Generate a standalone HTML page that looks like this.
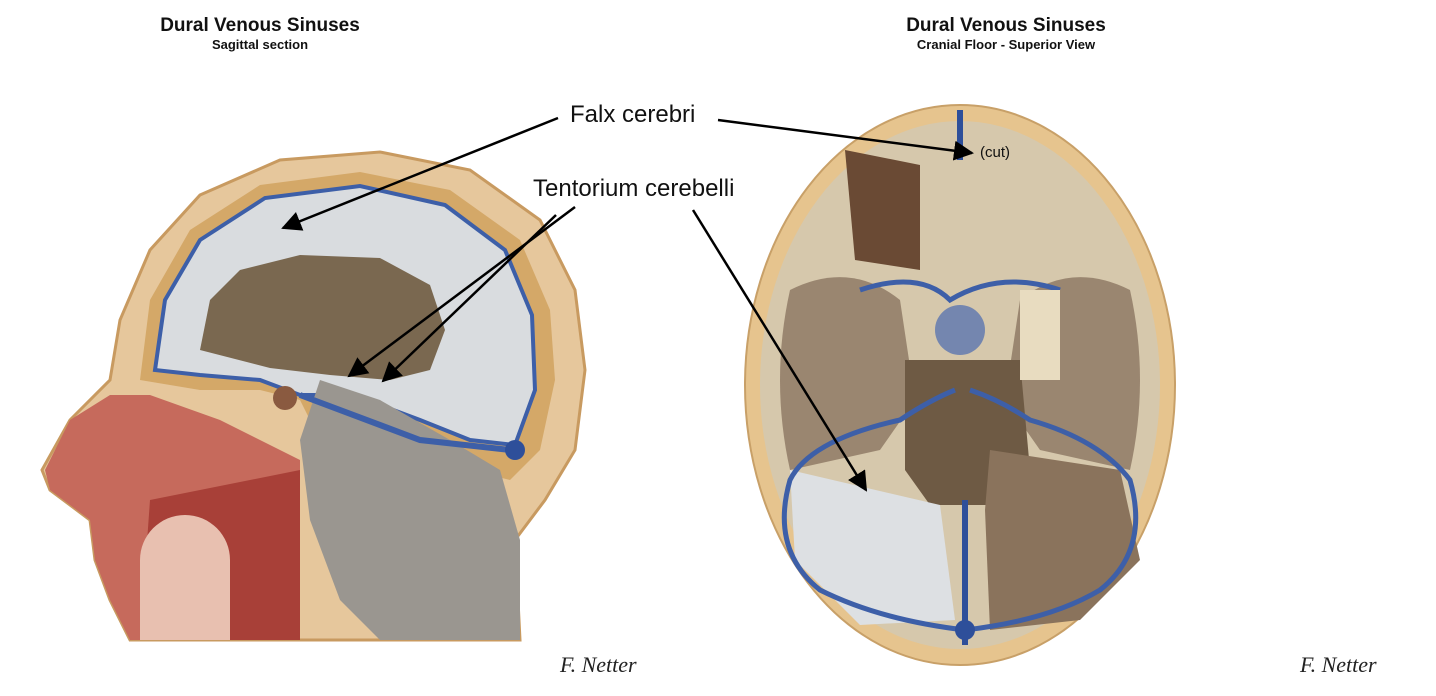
<!DOCTYPE html>
<html><head><meta charset="utf-8"><style>
body{margin:0;background:#fff;}
svg{display:block}
</style></head><body>
<svg width="1436" height="696" viewBox="0 0 1436 696" xmlns="http://www.w3.org/2000/svg" font-family="Liberation Sans, sans-serif">
<defs>
<marker id="ah" viewBox="0 0 10 10" refX="9" refY="5" markerWidth="8" markerHeight="8" orient="auto-start-reverse"><path d="M0,0 L10,5 L0,10 z" fill="#000"/></marker>
</defs>
<text x="260" y="31" text-anchor="middle" font-size="19" font-weight="bold" fill="#111">Dural Venous Sinuses</text>
<text x="260" y="49" text-anchor="middle" font-size="13" font-weight="bold" fill="#111">Sagittal section</text>
<text x="1006" y="31" text-anchor="middle" font-size="19" font-weight="bold" fill="#111">Dural Venous Sinuses</text>
<text x="1006" y="49" text-anchor="middle" font-size="13" font-weight="bold" fill="#111">Cranial Floor - Superior View</text>

<!-- left head -->
<path d="M130,640 L110,600 L95,560 L90,520 L50,490 L42,470 L70,420 L110,380 L120,320 L150,250 L200,195 L280,160 L380,152 L470,170 L540,220 L575,290 L585,370 L575,450 L545,500 L515,540 L520,640 Z" fill="#e6c79c" stroke="#c89a60" stroke-width="3"/>
<path d="M140,380 L150,300 L190,230 L260,185 L360,172 L450,190 L520,240 L550,310 L555,380 L540,450 L510,480 L470,470 L420,450 L380,430 L330,420 L310,420 L300,400 L260,390 L200,390 Z" fill="#d4a868"/>
<path d="M155,370 L165,300 L200,240 L265,198 L360,186 L445,205 L505,250 L532,315 L535,390 L515,445 L470,440 L420,420 L380,405 L330,395 L300,395 L260,380 L200,375 Z" fill="#d9dcdf" stroke="#3d5fa8" stroke-width="4"/>
<path d="M200,350 L210,300 L240,270 L300,255 L380,258 L430,285 L445,330 L430,370 L390,380 L330,375 L270,368 Z" fill="#7a6850"/>
<path d="M320,380 L300,440 L310,520 L340,600 L380,640 L520,640 L520,540 L500,470 L450,440 L380,400 Z" fill="#9a9690"/>
<path d="M300,395 L420,440 L510,450" stroke="#3d5fa8" stroke-width="6" fill="none"/>
<circle cx="515" cy="450" r="10" fill="#2e4f9a"/>
<path d="M45,470 L70,420 L110,395 L150,395 L220,420 L260,440 L300,460 L300,640 L130,640 L110,600 L95,560 L90,520 L50,490 Z" fill="#c66a5c"/>
<path d="M150,500 L300,470 L300,640 L140,640 Z" fill="#a84038"/>
<path d="M140,560 A40,40 0 0 1 230,560 L230,640 L140,640 Z" fill="#e8c0b0"/>
<circle cx="285" cy="398" r="12" fill="#8a5a40"/>

<!-- right skull -->
<ellipse cx="960" cy="385" rx="215" ry="280" fill="#e6c48e" stroke="#c8a068" stroke-width="2"/>
<ellipse cx="960" cy="385" rx="200" ry="264" fill="#d6c8ac"/>
<path d="M790,290 Q850,260 900,300 L915,400 L880,450 L790,470 Q770,380 790,290Z" fill="#9a8670"/>
<path d="M1130,290 Q1070,260 1020,300 L1005,400 L1040,450 L1130,470 Q1150,380 1130,290Z" fill="#9a8670"/>
<path d="M905,360 L1020,360 L1030,470 L990,505 L930,505 L905,470Z" fill="#6e5a44"/>
<path d="M990,450 L1120,470 L1140,560 L1080,620 L990,630 L985,510Z" fill="#8a735c"/>
<path d="M790,470 L940,505 L955,620 L860,625 L795,560Z" fill="#dde0e3"/>
<path d="M845,150 L920,165 L920,270 L855,260Z" fill="#6a4a34"/>
<path d="M960,110 L960,160 M965,500 L965,645" stroke="#2e4f9a" stroke-width="6"/>
<path d="M965,630 Q880,620 820,590 Q770,550 790,480 Q810,440 900,420 Q930,400 955,390 M965,630 Q1050,620 1100,590 Q1150,550 1130,480 Q1100,440 1030,420 Q1000,400 970,390 M860,290 Q920,270 950,300 Q1000,270 1060,290" stroke="#3d5fa8" stroke-width="5" fill="none"/>
<circle cx="965" cy="630" r="10" fill="#2e4f9a"/>
<circle cx="960" cy="330" r="25" fill="#4a6ab0" opacity="0.7"/>
<rect x="1020" y="290" width="40" height="90" fill="#e8dcc0"/>

<text x="570" y="122" font-size="24" fill="#111">Falx cerebri</text>
<text x="533" y="196" font-size="24" fill="#111">Tentorium cerebelli</text>
<text x="980" y="157" font-size="15" fill="#111">(cut)</text>
<g stroke="#000" stroke-width="2.5" fill="none" marker-end="url(#ah)">
<line x1="558" y1="118" x2="283" y2="228"/>
<line x1="718" y1="120" x2="972" y2="153"/>
<line x1="575" y1="207" x2="349" y2="376"/>
<line x1="556" y1="215" x2="383" y2="381"/>
<line x1="693" y1="210" x2="866" y2="490"/>
</g>
<text x="560" y="672" font-size="22" font-style="italic" font-family="Liberation Serif, serif" fill="#222">F. Netter</text>
<text x="1300" y="672" font-size="22" font-style="italic" font-family="Liberation Serif, serif" fill="#222">F. Netter</text>
</svg>
</body></html>
